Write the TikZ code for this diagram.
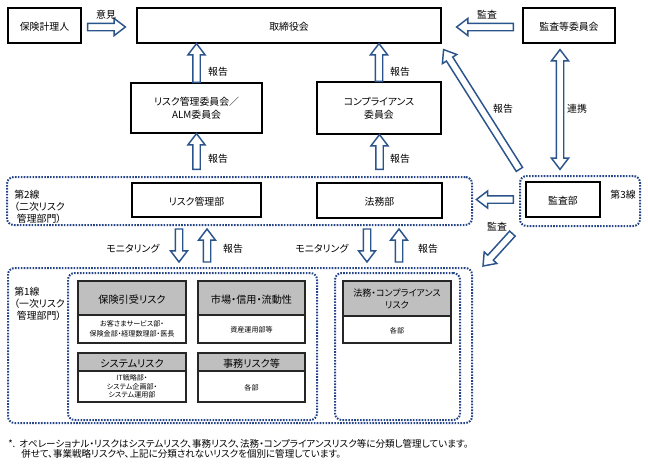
\documentclass[tikz,border=0pt]{standalone}
\usepackage{fontspec}
\setmainfont{Noto Sans CJK JP}[RawFeature=+palt]
\usetikzlibrary{calc,fit}
\definecolor{ablue}{RGB}{44,84,140}
\definecolor{dblue}{RGB}{36,68,135}
\definecolor{hgray}{RGB}{191,191,191}
\newcommand\fm{\fontsize{7.4}{10}\selectfont}
\newcommand\fl{\fontsize{7.4}{8.6}\selectfont}
\newcommand\fh{\fontsize{7.6}{9}\selectfont}
\newcommand\fsm{\fontsize{5.3}{7.4}\selectfont}
\newcommand\ffoot{\fontsize{7.15}{8}\selectfont}
\newcommand\mlc[1]{\begin{tabular}{@{}c@{}}#1\end{tabular}}
\newcommand\mll[1]{\begin{tabular}{@{}l@{}}#1\end{tabular}}
\newcommand\arsw{2.8pt}
\newcommand\arhw{6.4pt}
\newcommand\arhl{8.4pt}
% box with centred text: style, fit corners, name, text style, text
\newcommand\bx[5]{\node[#1, fit={#2}] (#3) {}; \node[#4] (#3t) at (#3.center) {#5};}
\newcommand\barrow[2]{%
  \coordinate (bA) at #1; \coordinate (bB) at #2;
  \coordinate (bH) at ($(bB)!\arhl!(bA)$);
  \draw[barr] ($(bA)!\arsw!90:(bB)$) -- ($(bH)!\arsw!90:(bB)$) -- ($(bH)!\arhw!90:(bB)$) -- (bB)
    -- ($(bH)!\arhw!-90:(bB)$) -- ($(bH)!\arsw!-90:(bB)$) -- ($(bA)!\arsw!-90:(bB)$) -- cycle;}
\newcommand\dbarrow[2]{%
  \coordinate (bA) at #1; \coordinate (bB) at #2;
  \coordinate (bH) at ($(bB)!\arhl!(bA)$);
  \coordinate (bG) at ($(bA)!\arhl!(bB)$);
  \draw[barr] (bA) -- ($(bG)!\arhw!90:(bB)$) -- ($(bG)!\arsw!90:(bB)$) -- ($(bH)!\arsw!90:(bB)$) -- ($(bH)!\arhw!90:(bB)$) -- (bB)
    -- ($(bH)!\arhw!-90:(bB)$) -- ($(bH)!\arsw!-90:(bB)$) -- ($(bG)!\arsw!-90:(bB)$) -- ($(bG)!\arhw!-90:(bB)$) -- cycle;}
\tikzset{
  box/.style={draw=black, line width=0.9pt, inner sep=0pt},
  rhead/.style={draw=black!85, line width=0.9pt, fill=hgray, inner sep=0pt},
  rbody/.style={draw=black!85, line width=0.9pt, fill=white, inner sep=0pt},
  tm/.style={font=\fm, inner sep=0pt, yshift=-1pt},
  th/.style={font=\fh, inner sep=0pt, yshift=-1pt},
  ts/.style={font=\fsm, inner sep=0pt, yshift=-0.6pt},
  dotbox/.style={draw=dblue, line width=1.5pt, dash pattern=on 1.2pt off 1.0pt, rounded corners=5pt, inner sep=0pt},
  barr/.style={draw=ablue, line width=1.1pt, fill=white, line join=miter},
  lbl/.style={font=\fm, inner sep=0pt, yshift=-1pt},
}
\begin{document}
\begin{tikzpicture}[x=0.75pt,y=-0.75pt]
\useasboundingbox (0,0) rectangle (648,471);
% dotted group boxes
\node[dotbox, fit={(7,177) (472,225)}] (L2) {};
\node[dotbox, fit={(520,176) (640,226)}] (L3) {};
\node[dotbox, fit={(8,268) (472,423)}] (L1) {};
\node[dotbox, fit={(68,273) (317,420)}] (L1a) {};
\node[dotbox, fit={(335,273) (460,420)}] (L1b) {};
% main boxes
\bx{box}{(8,8) (81,43)}{act}{tm}{保険計理人}
\bx{box}{(137,8) (441,43)}{board}{tm}{取締役会}
\bx{box}{(523,8) (615,43)}{audcom}{tm}{監査等委員会}
\bx{box}{(131,83) (262,133)}{rmcom}{tm}{\mlc{リスク管理委員会／\\ALM委員会}}
\bx{box}{(317,82) (441,134)}{compcom}{tm}{\mlc{コンプライアンス\\委員会}}
\bx{box}{(132,183) (261,217)}{rmdept}{tm}{リスク管理部}
\bx{box}{(317,183) (442,218)}{legal}{tm}{法務部}
\bx{box}{(526,182) (600,217)}{audit}{tm}{監査部}
% risk boxes
\bx{rhead}{(78,281) (186,315)}{r1h}{th}{保険引受リスク}
\bx{rbody}{(78,315) (186,343)}{r1b}{ts}{\mlc{お客さまサービス部・\\保険金部・経理数理部・医長}}
\bx{rhead}{(198,281) (305,315)}{r2h}{th}{市場・信用・流動性}
\bx{rbody}{(198,315) (305,343)}{r2b}{ts}{資産運用部等}
\bx{rhead}{(78,353) (186,371)}{r3h}{th}{システムリスク}
\bx{rbody}{(78,371) (186,402)}{r3b}{ts, font=\fontsize{5.3}{6.4}\selectfont}{\mlc{IT戦略部・\\システム企画部・\\システム運用部}}
\bx{rhead}{(198,353) (305,371)}{r4h}{th}{事務リスク等}
\bx{rbody}{(198,371) (305,402)}{r4b}{ts}{各部}
\bx{rhead}{(343,281) (451,316)}{r5h}{th, font=\fontsize{6.8}{9}\selectfont}{\mlc{法務・コンプライアンス\\リスク}}
\bx{rbody}{(343,316) (451,343)}{r5b}{ts}{各部}
% arrows
\barrow{($(act.east)+(6,1.5)$)}{($(board.west)+(-11,1.5)$)}
\barrow{($(audcom.west)+(-9,1.5)$)}{($(board.east)+(15,1.5)$)}
\barrow{(rmcom.north)}{(board.south -| rmcom.north)}
\barrow{(compcom.north)}{(board.south -| compcom.north)}
\barrow{($(rmdept.north)+(0,-13)$)}{(rmcom.south)}
\barrow{($(legal.north)+(0,-13)$)}{(compcom.south -| legal.north)}
\barrow{($(audit.north west)+(-6,-12)$)}{($(board.south east)+(2,6)$)}
\dbarrow{($(audcom.south)+(-9,6)$)}{($(audit.north)+(-3,-12)$)}
\barrow{($(audit.west)+(-12,0)$)}{($(audit.west)+(-49,0)$)}
\barrow{($(audit.south west)+(-13,16)$)}{($(L1.north east)+(10,-1)$)}
\barrow{($(L2.south west)+(173,3)$)}{($(L1.north west)+(172,-5)$)}
\barrow{($(L1.north west)+(200,-5)$)}{($(L2.south west)+(201,3)$)}
\barrow{($(L2.south west)+(361,3)$)}{($(L1.north west)+(360,-5)$)}
\barrow{($(L1.north west)+(392,-5)$)}{($(L2.south west)+(393,3)$)}
% labels
\node[lbl] (t1) at (106,13) {意見};
\node[lbl] (t2) at (487,13) {監査};
\node[lbl] (t3) at (218,70) {報告};
\node[lbl] (t4) at (400,70) {報告};
\node[lbl] (t5) at (503,107) {報告};
\node[lbl] (t6) at (577,107) {連携};
\node[lbl] (t7) at (218,157) {報告};
\node[lbl] (t8) at (400,157) {報告};
\node[lbl] (t9) at (497,225) {監査};
\node[lbl] (t10) at (133,247) {モニタリング};
\node[lbl] (t11) at (233,247) {報告};
\node[lbl] (t12) at (322,247) {モニタリング};
\node[lbl] (t13) at (428,247) {報告};
\node[lbl] (t14) at (623,193) {第3線};
\node[lbl, font=\fl, anchor=west] (t15) at (14,207) {\mll{第2線\\（二次リスク\\\hspace*{2pt}管理部門）}};
\node[lbl, font=\fl, anchor=west] (t16) at (14,304) {\mll{第1線\\（一次リスク\\\hspace*{2pt}管理部門）}};
\node[lbl, font=\ffoot, anchor=west] (f1) at (8,443) {*.\hspace{3pt}オペレーショナル・リスクはシステムリスク、事務リスク、法務・コンプライアンスリスク等に分類し管理しています。};
\node[lbl, font=\ffoot, anchor=west] (f2) at (21,453) {併せて、事業戦略リスクや、上記に分類されないリスクを個別に管理しています。};
\end{tikzpicture}
\end{document}
